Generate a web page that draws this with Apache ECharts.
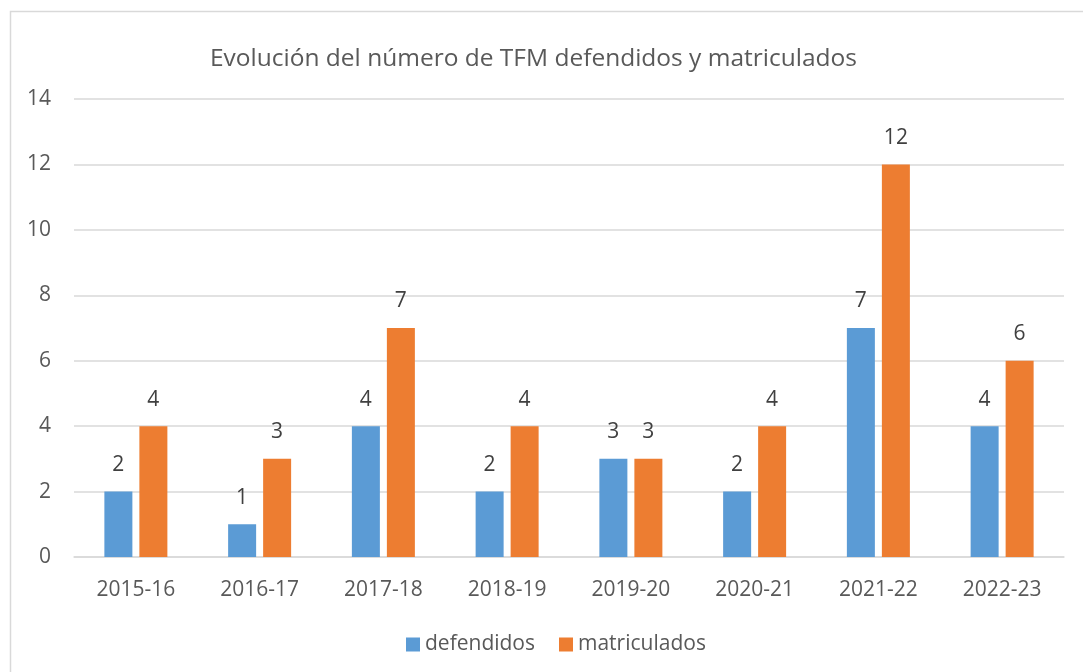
<!DOCTYPE html>
<html>
<head>
<meta charset="utf-8">
<script src="https://cdn.jsdelivr.net/npm/echarts@6/dist/echarts.min.js"></script>
<style>
  html, body { margin: 0; padding: 0; background: #fff; }
  #chart { width: 1083px; height: 672px; }
</style>
</head>
<body>
<div id="chart"></div>
<script>
const categories = ['2015-16', '2016-17', '2017-18', '2018-19', '2019-20', '2020-21', '2021-22', '2022-23']
const defendidos = [2, 1, 4, 2, 3, 2, 7, 4]
const matriculados = [4, 3, 7, 4, 3, 4, 12, 6]
const yTicks = [0, 2, 4, 6, 8, 10, 12, 14]

const font = '"Open Sans", "Noto Sans", sans-serif'

const chart = echarts.init(document.getElementById('chart'))

chart.setOption({
  animation: false,
  backgroundColor: '#fff',
  title: {
    text: 'Evolución del número de TFM defendidos y matriculados',
    left: 205,
    top: 42,
    textStyle: { fontFamily: font, fontSize: 24.5, fontWeight: 'normal', color: '#595959' }
  },
  legend: {
    bottom: 12,
    left: 401,
    itemWidth: 14,
    itemHeight: 14,
    itemGap: 24,
    icon: 'rect',
    textStyle: { fontFamily: font, fontSize: 21, color: '#595959' },
    data: ['defendidos', 'matriculados']
  },
  grid: { left: 74, right: 19, top: 99, bottom: 115 },
  xAxis: {
    type: 'category',
    data: categories,
    axisLine: { lineStyle: { color: '#d9d9d9', width: 1.5 } },
    axisTick: { show: false },
    axisLabel: { fontFamily: font, fontSize: 21, color: '#595959', margin: 23 }
  },
  yAxis: {
    type: 'value',
    min: yTicks[0],
    max: yTicks[yTicks.length - 1],
    interval: 2,
    axisLine: { show: false },
    axisTick: { show: false },
    splitLine: { lineStyle: { color: '#d9d9d9', width: 1.5 } },
    axisLabel: { fontFamily: font, fontSize: 21, color: '#595959', margin: 23 }
  },
  series: [
    {
      name: 'defendidos',
      type: 'bar',
      data: defendidos,
      barWidth: 28,
      barGap: '25%',
      itemStyle: { color: '#5b9bd5' },
      label: { show: true, position: 'top', distance: 16, fontFamily: font, fontSize: 21, color: '#404040' }
    },
    {
      name: 'matriculados',
      type: 'bar',
      data: matriculados,
      barWidth: 28,
      barGap: '25%',
      itemStyle: { color: '#ed7d31' },
      label: { show: true, position: 'top', distance: 16, fontFamily: font, fontSize: 21, color: '#404040' }
    }
  ],
  graphic: [
    {
      type: 'rect',
      shape: { x: 10.5, y: 11.5, width: 1100, height: 700 },
      style: { fill: 'none', stroke: '#d9d9d9', lineWidth: 1.5 },
      silent: true
    }
  ]
})
</script>
</body>
</html>
